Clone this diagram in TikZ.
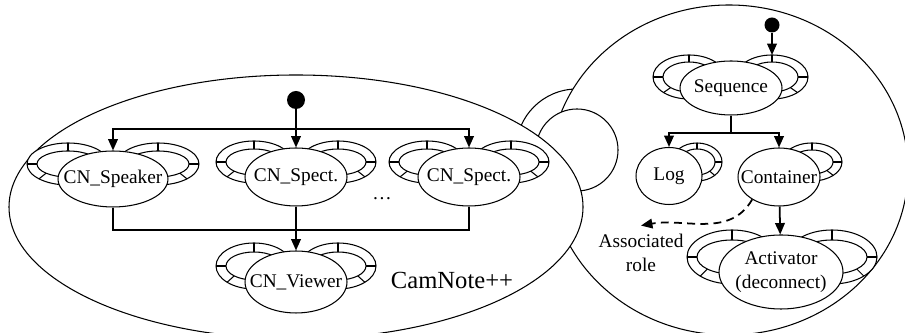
\documentclass[tikz,border=0pt]{standalone}
\usepackage{fontspec}
\setmainfont{Liberation Serif}
\usetikzlibrary{shapes.geometric,arrows.meta}

% ring of a role: centre, outer radii, inner radii, tick angles
\newcommand{\rolering}[6]{%
  \draw[semithick, fill=white] (#1) ellipse [x radius=#2, y radius=#3];
  \draw[semithick, fill=white] (#1) ellipse [x radius=#4, y radius=#5];
  \foreach \ang in {#6}
    \draw[semithick, shift={(#1)}] (\ang:#4 and #5) -- (\ang:#2 and #3);
}

\begin{document}
\begin{tikzpicture}[x=0.02cm, y=0.02cm, font=\fontsize{11}{13.5}\selectfont,
    role/.style ={ellipse, draw, semithick, fill=white, inner sep=0pt},
    start/.style ={circle, fill=black, inner sep=0pt, minimum size=0.36cm},
    flow/.style ={line width=1pt, -{Triangle[length=6.5pt, width=5.5pt]}}]
   \useasboundingbox (0,0) rectangle (905,333);

   % the two components and the port between them
   \draw[semithick, fill=white] (577,183) circle [radius=61];
   \draw[semithick, fill=white] (729,163) ellipse [x radius=179, y radius=165];
   \draw[semithick, fill=white] (577,183) circle [radius=41];
   \draw[semithick, fill=white] (296,126) ellipse [x radius=287, y radius=132];

   % CamNote++
   \rolering{68,169}{41}{21}{31}{13}{90,180,225}
   \rolering{158,169}{41}{21}{31}{13}{90,0,-45}
   \rolering{254,171}{38}{21}{28}{13}{90,180,225}
   \rolering{338,171}{38}{21}{28}{13}{90,0,-45}
   \rolering{427,171}{38}{21}{28}{13}{90,180,225}
   \rolering{511,171}{38}{21}{28}{13}{90,0,-45}
   \rolering{254,67}{38}{23}{28}{14}{90,180,225}
   \rolering{338,67}{38}{23}{28}{14}{90,0,-45}

   \node[start] (camstart) at (296,233) {};
   \node[role, minimum width=2.2cm, minimum height=1.12cm] (speaker) at (113,154) {\makebox[0pt]{CN\_Speaker}};
   \node[role, minimum width=2.04cm, minimum height=1.16cm] (specta) at (296,156) {\makebox[0pt]{CN\_Spect.}};
   \node[role, minimum width=2.04cm, minimum height=1.16cm] (spectb) at (469,156) {\makebox[0pt]{CN\_Spect.}};
   \node[role, minimum width=2.04cm, minimum height=1.24cm] (viewer) at (296,51) {\makebox[0pt]{CN\_Viewer}};
   \node (more) at (382,134) {\dots};
   \node[font=\fontsize{14}{16}\selectfont] (camnote) at (452,53) {CamNote++};

   \coordinate (fork) at (296,204);
   \coordinate (join) at (296,103);
   \draw[line width=1pt] (camstart) -- (fork);
   \draw[flow] (fork) -| (speaker);
   \draw[flow] (fork) -- (specta);
   \draw[flow] (fork) -| (spectb);
   \draw[line width=1pt] (speaker) |- (join) -| (spectb);
   \draw[flow] (specta) -- (viewer);

   % connector
   \rolering{689,256}{36}{22}{26}{15}{90,180,225}
   \rolering{772,256}{36}{22}{26}{15}{90,0,-45}
   \rolering{697,171}{25}{19}{18}{13}{90,0,-45}
   \rolering{812,171}{30}{19}{21}{12}{90,0,-45}
   \rolering{732,76}{45}{27}{35}{17}{90,180,225}
   \rolering{832,76}{45}{27}{35}{17}{90,0,-45}

   \node[start, minimum size=0.3cm] (seqstart) at (772,308) {};
   \node[role, minimum width=2.04cm, minimum height=1.08cm] (sequence) at (731,245) {\makebox[0pt]{Sequence}};
   \node[role, minimum width=1.32cm, minimum height=1.14cm] (log) at (669,157) {\makebox[0pt]{Log}};
   \node[role, minimum width=1.64cm, minimum height=1.16cm] (container) at (779,156) {\makebox[0pt]{Container}};
   \node[role, minimum width=2.48cm, minimum height=1.48cm] (activator) at (781,61)
     {\makebox[0pt]{\begin{tabular}{@{}c@{}}Activator\\(deconnect)\end{tabular}}};
   \node[align=center, inner sep=0pt, outer sep=5pt] (assoc) at (641,80) {Associated\\role};

   \coordinate (seqport) at (772,278);
   \coordinate (split) at (731,200);
   \draw[flow] (seqstart) -- (seqport);
   \draw[line width=1pt] (sequence) -- (split);
   \draw[flow] (split) -| (log);
   \draw[flow] (split) -| (container);
   \draw[flow] (container) -- (activator);
   \draw[flow, dash pattern=on 4.5pt off 3pt] (container.220) to[out=240, in=10] (assoc.north);
\end{tikzpicture}
\end{document}
